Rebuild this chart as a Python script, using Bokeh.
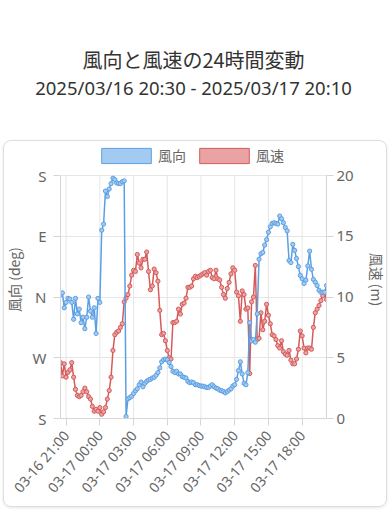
import pandas as pd
from bokeh.plotting import figure
from bokeh.models import (Range1d, LinearAxis, FixedTicker, DatetimeTickFormatter, Title,
                          Legend, LegendItem, ColumnDataSource, InlineStyleSheet)
from bokeh.embed import file_html
from bokeh.resources import INLINE

# ---------------- data ----------------
start_time = "2025-03-16 20:30"
step = "10min"

wind_dir = [183, 186, 164, 172, 178, 177, 172, 147, 178, 155, 162, 142, 150, 133, 150, 180, 159, 150, 164,
            126, 178, 172,
            279, 288, 337, 329, 340, 348, 356, 354, 349, 348, 348, 351, 352,
            3,
            29, 31, 33, 37, 41, 44, 50, 54, 47, 52, 55, 57, 58, 60, 61, 64, 68, 75, 84, 87, 88, 87, 83, 77,
            70, 68, 70, 66, 66, 62, 61, 60, 55, 53, 54, 53, 50, 50, 49, 48, 48, 47, 46, 46, 48, 50, 47, 45,
            44, 42, 41, 40, 38, 40, 42, 44, 48,
            50, 58, 71, 84, 66, 52, 50, 68, 142, 115, 117, 113, 155,
            236, 244, 246, 257, 265, 276, 284, 289, 290, 289, 288, 300, 296, 290, 283, 278, 234, 231, 258,
            249, 237, 225, 212, 207, 200, 205, 226, 248, 221, 206, 202, 197, 190, 187, 187, 187, 197]

wind_speed = [4.6, 3.5, 4.5, 3.4, 3.8, 4.0, 4.6, 3.4, 2.4, 1.9, 1.8, 1.9, 2.2, 2.5, 2.2, 1.8, 1.6, 1.0,
              0.6, 0.75, 0.6, 0.9, 0.35, 0.55, 0.9, 1.6, 2.3, 3.4,
              5.6, 6.9, 7.1, 7.2, 7.5, 7.8, 9.6, 9.9, 10.2, 10.9, 11.8, 12.2, 12.1, 13.5, 12.8, 12.4, 13.1,
              13.1, 13.7, 12.1, 10.6, 10.9, 12.3, 12.0, 11.3, 8.9, 6.9, 7.0, 6.4, 5.6, 5.0, 4.9,
              7.9, 7.9, 8.0, 9.0, 8.6, 9.4, 9.5, 9.9, 10.8, 10.8, 10.9, 11.5, 11.7, 11.6, 11.7, 11.8, 11.9,
              12.0, 11.8, 12.1, 12.2, 11.6, 11.5, 12.2, 11.5, 11.4, 10.8, 10.2, 9.9, 10.7, 11.2, 11.9, 12.4,
              12.2, 10.4,
              10.1, 8.0, 10.5, 10.2, 9.0, 9.1, 3.7, 9.6, 10.0, 12.6, 6.5, 6.6, 8.7, 7.3, 8.0, 9.4, 8.5, 7.8,
              6.9, 6.8, 6.5, 6.0, 5.8, 6.4, 5.5, 5.3, 5.2, 5.6, 4.8, 4.5, 4.5, 4.9, 5.7, 7.2, 6.8, 5.8, 5.4,
              5.8, 5.8, 5.7, 7.5, 8.7, 9.0, 9.3, 9.7, 10.1, 10.4, 9.8]

dir_ticks = [0, 90, 180, 270, 360]
dir_labels = ["S", "W", "N", "E", "S"]
speed_ticks = [0, 5, 10, 15, 20]
x_tick_times = ["2025-03-16 21:00", "2025-03-17 00:00", "2025-03-17 03:00", "2025-03-17 06:00",
                "2025-03-17 09:00", "2025-03-17 12:00", "2025-03-17 15:00", "2025-03-17 18:00"]

title_text = "風向と風速の24時間変動"
subtitle_text = "2025/03/16 20:30 - 2025/03/17 20:10"
series_names = ["風向", "風速"]
left_title = "風向 (deg)"
right_title = "風速 (m)"

# ---------------- style / layout ----------------
BLUE = "#5b9fe3"
BLUE_FILL = "#a3cbf2"
RED = "#d65a5a"
RED_FILL = "#e9a3a3"
GRID = "#e6e6e6"
AXIS = "#d6d6d6"
TXT = "#666666"
CJK = "Noto Sans CJK JP"
LAT = "Noto Sans"

W, H = 391, 510
FRAME_L, FRAME_R, FRAME_T, FRAME_B = 60, 326, 140, 418      # frame in page pixels
AXIS_TOP = 175                                               # pixel of the top tick (360 / 20)
scale_up = (FRAME_B - FRAME_T) / (FRAME_B - AXIS_TOP)        # room above the axes for the legend

times = pd.date_range(start_time, periods=len(wind_dir), freq=step)
tick_ms = [pd.Timestamp(t).value / 1e6 for t in x_tick_times]
src = ColumnDataSource(dict(t=times, d=wind_dir, s=wind_speed))

p = figure(width=W, height=H, x_axis_type="datetime", title=None,
           x_range=Range1d(times[0], times[-1]), y_range=Range1d(0, dir_ticks[-1] * scale_up),
           output_backend="svg", toolbar_location=None,
           min_border_left=FRAME_L, min_border_right=W - FRAME_R,
           min_border_top=FRAME_T, min_border_bottom=H - FRAME_B)
p.extra_y_ranges = {"speed": Range1d(0, speed_ticks[-1] * scale_up)}
p.outline_line_color = None

# card look (pure CSS decoration around the chart area)
p.stylesheets = [InlineStyleSheet(css=(
    ":host::after { content: ''; position: absolute; left: 3px; top: 140px; width: 384px; "
    "height: 367px; border: 1px solid #dedede; border-radius: 8px; "
    "box-shadow: 0 1px 3px rgba(0,0,0,0.10); pointer-events: none; box-sizing: border-box; }"))]

# x axis
p.xaxis.ticker = FixedTicker(ticks=tick_ms)
fmt = "%m-%d %H:%M"
p.xaxis.formatter = DatetimeTickFormatter(microseconds=fmt, milliseconds=fmt, seconds=fmt, minsec=fmt,
                                          minutes=fmt, hourmin=fmt, hours=fmt, days=fmt, months=fmt, years=fmt)
p.xaxis.major_label_orientation = 0.86
p.xaxis.major_label_standoff = 7

# left axis
p.yaxis.ticker = FixedTicker(ticks=dir_ticks)
p.yaxis.major_label_overrides = {k: v for k, v in zip(dir_ticks, dir_labels)}
p.yaxis.axis_label = left_title
p.yaxis.bounds = (dir_ticks[0], dir_ticks[-1])
p.yaxis.major_label_standoff = 7
p.yaxis.axis_label_standoff = 6

# right axis
rax = LinearAxis(y_range_name="speed", ticker=FixedTicker(ticks=speed_ticks), axis_label=right_title,
                 bounds=(speed_ticks[0], speed_ticks[-1]))
rax.major_label_standoff = 3
rax.axis_label_standoff = 10
p.add_layout(rax, "right")

for ax in [p.xaxis[0], p.yaxis[0], rax]:
    ax.axis_line_color = AXIS
    ax.major_tick_line_color = AXIS
    ax.major_tick_out = 7
    ax.major_tick_in = 0
    ax.minor_tick_line_color = None
    ax.major_label_text_color = TXT
    ax.major_label_text_font = LAT
    ax.major_label_text_font_size = "14px"
    ax.axis_label_text_color = TXT
    ax.axis_label_text_font = CJK
    ax.axis_label_text_font_size = "14px"
    ax.axis_label_text_font_style = "normal"
p.yaxis.major_label_text_font_size = "15px"
rax.major_label_text_font_size = "15px"

# grid: horizontal from the left ticker, vertical only over the axis span
p.ygrid.grid_line_color = GRID
p.xgrid.visible = False
p.segment(x0=tick_ms, x1=tick_ms, y0=[dir_ticks[0]] * len(tick_ms), y1=[dir_ticks[-1]] * len(tick_ms),
          line_color=GRID, line_width=1)

# data
p.line("t", "s", source=src, y_range_name="speed", line_color=RED, line_width=1.5)
p.scatter("t", "s", source=src, y_range_name="speed", size=4.2, line_color=RED, fill_color=RED_FILL,
          line_width=1)
p.line("t", "d", source=src, line_color=BLUE, line_width=1.5)
p.scatter("t", "d", source=src, size=4.2, line_color=BLUE, fill_color=BLUE_FILL, line_width=1)

# legend (box swatches, as in the original)
nan = float("nan")
lb = p.quad(left=[nan], right=[nan], top=[nan], bottom=[nan], fill_color=BLUE_FILL, line_color=BLUE,
            line_width=1)
lr = p.quad(left=[nan], right=[nan], top=[nan], bottom=[nan], fill_color=RED_FILL, line_color=RED,
            line_width=1)
legend = Legend(items=[LegendItem(label=series_names[0], renderers=[lb]),
                       LegendItem(label=series_names[1], renderers=[lr])],
                orientation="horizontal", location=(101 - 6 - FRAME_L, FRAME_B - 165),
                glyph_width=62, glyph_height=19, label_height=19, label_standoff=1, spacing=7,
                padding=0, margin=0, border_line_alpha=0, background_fill_alpha=0,
                label_text_font=CJK, label_text_font_size="14px", label_text_color=TXT)
p.add_layout(legend)

# titles: stacked upward from the chart (spacer, subtitle, title)
p.add_layout(Title(text=" ", text_font_size="1px", standoff=37), "above")
p.add_layout(Title(text=subtitle_text, align="center", vertical_align="middle", standoff=0,
                   text_font=LAT, text_font_size="18.5px", text_font_style="normal",
                   text_color="#333333"), "above")
p.add_layout(Title(text=title_text, align="center", vertical_align="middle", standoff=-2,
                   text_font=CJK, text_font_size="20px", text_font_style="normal",
                   text_color="#333333"), "above")

open("out.html", "w").write(file_html(p, INLINE))
